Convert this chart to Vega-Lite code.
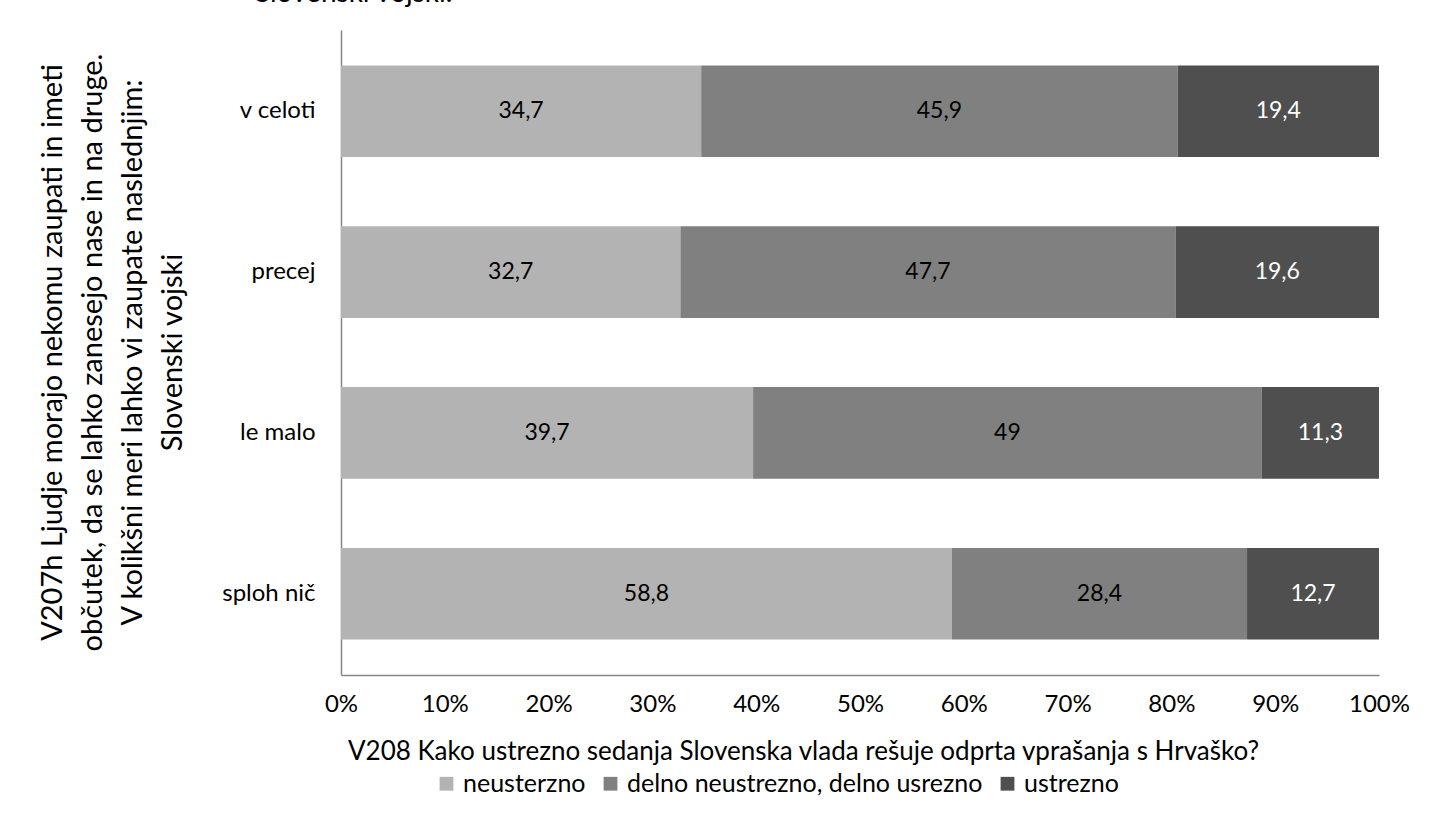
{
  "$schema": "https://vega.github.io/schema/vega-lite/v6.json",
  "autosize": {"type": "none"},
  "padding": {"left": 341, "top": 30, "right": 57, "bottom": 139},
  "width": 1038,
  "height": 645,
  "background": "white",
  "config": {
    "font": "Lato",
    "view": {"stroke": null},
    "locale": {"number": {"decimal": ",", "thousands": ".", "grouping": [3], "currency": ["", " €"]}}
  },
  "title": {
    "text": "Slovenski vojski.",
    "anchor": "start",
    "frame": "group",
    "dx": -86,
    "offset": 0,
    "baseline": "alphabetic",
    "fontSize": 28,
    "fontWeight": "normal",
    "color": "black"
  },
  "data": {
    "values": [
      {"trust": "v celoti", "answer": "neusterzno", "value": 34.7},
      {"trust": "v celoti", "answer": "delno neustrezno, delno usrezno", "value": 45.9},
      {"trust": "v celoti", "answer": "ustrezno", "value": 19.4},
      {"trust": "precej", "answer": "neusterzno", "value": 32.7},
      {"trust": "precej", "answer": "delno neustrezno, delno usrezno", "value": 47.7},
      {"trust": "precej", "answer": "ustrezno", "value": 19.6},
      {"trust": "le malo", "answer": "neusterzno", "value": 39.7},
      {"trust": "le malo", "answer": "delno neustrezno, delno usrezno", "value": 49},
      {"trust": "le malo", "answer": "ustrezno", "value": 11.3},
      {"trust": "sploh nič", "answer": "neusterzno", "value": 58.8},
      {"trust": "sploh nič", "answer": "delno neustrezno, delno usrezno", "value": 28.4},
      {"trust": "sploh nič", "answer": "ustrezno", "value": 12.7}
    ]
  },
  "transform": [
    {"stack": "value", "groupby": ["trust"], "offset": "normalize", "as": ["x0", "x1"]}
  ],
  "encoding": {
    "y": {
      "field": "trust",
      "type": "nominal",
      "sort": ["v celoti", "precej", "le malo", "sploh nič"],
      "scale": {"paddingInner": 0.43, "paddingOuter": 0.22},
      "axis": {
        "title": ["V207h Ljudje morajo nekomu zaupati in imeti", "občutek, da se lahko zanesejo nase in na druge.", "V kolikšni meri lahko vi zaupate naslednjim:", "Slovenski vojski"],
        "titleFontSize": 29,
        "titleFontWeight": "normal",
        "titleColor": "black",
        "titleLineHeight": 40,
        "titleAngle": -90,
        "titleX": -303,
        "titleY": 322,
        "titleAlign": "center",
        "titleBaseline": "top",
        "labelFontSize": 24,
        "labelColor": "black",
        "labelPadding": 26,
        "ticks": false,
        "domainColor": "#868686",
        "domainWidth": 1.5
      }
    }
  },
  "layer": [
    {
      "mark": {"type": "bar"},
      "encoding": {
        "x": {
          "field": "x0",
          "type": "quantitative",
          "scale": {"domain": [0, 1], "nice": false},
          "axis": {
            "title": "V208 Kako ustrezno sedanja Slovenska vlada rešuje odprta vprašanja s Hrvaško?",
            "titleFontSize": 26,
            "titleFontWeight": "normal",
            "titleColor": "black",
            "titleX": 462,
            "titleY": 76,
            "titleAlign": "center",
            "titleBaseline": "middle",
            "format": "%",
            "values": [0, 0.1, 0.2, 0.3, 0.4, 0.5, 0.6, 0.7, 0.8, 0.9, 1],
            "labelFontSize": 24,
            "labelColor": "black",
            "labelPadding": 17,
            "ticks": false,
            "grid": false,
            "domainColor": "#868686",
            "domainWidth": 1.5,
            "labelFlush": false
          }
        },
        "x2": {"field": "x1"},
        "color": {
          "field": "answer",
          "type": "nominal",
          "sort": ["neusterzno", "delno neustrezno, delno usrezno", "ustrezno"],
          "scale": {"domain": ["neusterzno", "delno neustrezno, delno usrezno", "ustrezno"], "range": ["#b3b3b3", "#808080", "#4f4f4f"]},
          "legend": {
            "title": null,
            "orient": "none",
            "direction": "horizontal",
            "legendX": 93,
            "legendY": 741,
            "symbolType": "square",
            "symbolSize": 190,
            "symbolStrokeWidth": 0,
            "labelFontSize": 25,
            "labelLimit": 0,
            "labelColor": "black",
            "labelOffset": 4,
            "columnPadding": 12
          }
        }
      }
    },
    {
      "transform": [
        {"fold": ["x0", "x1"], "as": ["edge", "pos"]},
        {"aggregate": [{"op": "mean", "field": "pos", "as": "mid"}], "groupby": ["trust", "answer", "value"]}
      ],
      "mark": {"type": "text", "fontSize": 23},
      "encoding": {
        "x": {"field": "mid", "type": "quantitative"},
        "text": {"field": "value", "type": "quantitative", "format": ".3~g"},
        "color": {
          "condition": {"test": "datum.answer === 'ustrezno'", "value": "white"},
          "value": "black"
        }
      }
    }
  ]
}
